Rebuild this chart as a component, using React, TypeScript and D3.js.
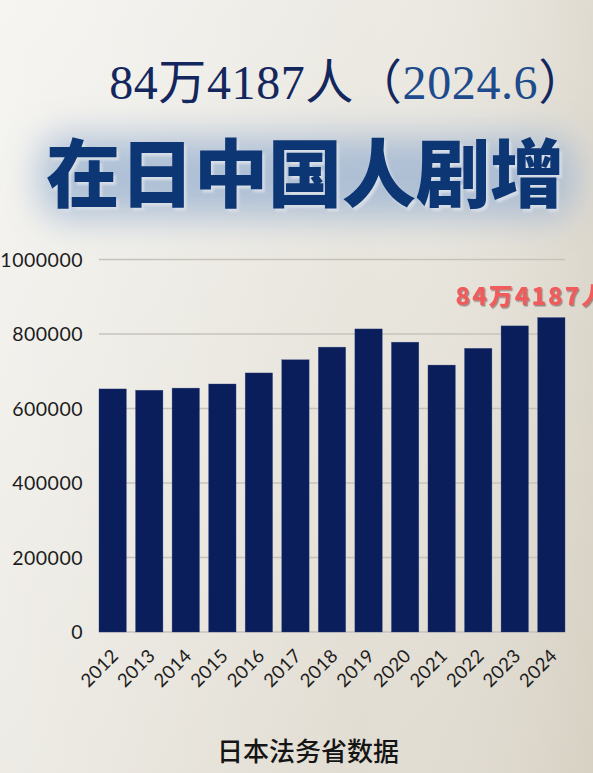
import React from "react";
import * as d3 from "d3";

const years = ["2012","2013","2014","2015","2016","2017","2018","2019","2020","2021","2022","2023","2024"];
const residents = [652595, 649078, 654777, 665847, 695522, 730890, 764720, 813675, 778112, 716606, 761563, 821838, 844187];
const yTicks = [0, 200000, 400000, 600000, 800000, 1000000];
const titleMain = "84万4187人";
const titleDate = "2024.6";
const headline = "在日中国人剧增";
const annotation = "84万4187人";
const source = "日本法务省数据";

const W = 593;
const H = 773;

export default function App() {
  const x = d3.scaleBand<string>().domain(years).range([94.4, 569.6]).paddingInner(0.25).paddingOuter(0.125);
  const y = d3.scaleLinear().domain([0, 1000000]).range([632, 259.5]);
  const x0 = x(years[0])!;
  const x1 = x(years[years.length - 1])! + x.bandwidth();
  const last = years.length - 1;
  const tickFont = "Lato, 'DejaVu Sans', sans-serif";
  return (
    <div style={{ width: W, height: H, overflow: "hidden" }}>
      <style>{"body{margin:0;}"}</style>
      <svg width={W} height={H} viewBox={`0 0 ${W} ${H}`} style={{ display: "block" }}>
        <defs>
          <linearGradient id="bg" x1="0" y1="0" x2="1" y2="1">
            <stop offset="0" stopColor="#f3f2ee" />
            <stop offset="0.5" stopColor="#e8e5dd" />
            <stop offset="1" stopColor="#ddd7cb" />
          </linearGradient>
          <linearGradient id="bgh" x1="0" y1="0" x2="1" y2="0">
            <stop offset="0" stopColor="#ffffff" stopOpacity="0.25" />
            <stop offset="0.6" stopColor="#ffffff" stopOpacity="0" />
            <stop offset="1" stopColor="#c9c1b0" stopOpacity="0.28" />
          </linearGradient>
          <filter id="glow" x="-20%" y="-80%" width="140%" height="260%">
            <feGaussianBlur stdDeviation="18" />
          </filter>
          <filter id="shadow" x="-10%" y="-30%" width="130%" height="160%">
            <feDropShadow dx="1.2" dy="1.5" stdDeviation="0.6" floodColor="#5a4a4a" floodOpacity="0.55" />
          </filter>
          <filter id="soft" x="-10%" y="-30%" width="120%" height="160%">
            <feGaussianBlur stdDeviation="1.2" />
          </filter>
        </defs>
        <rect x={0} y={0} width={W} height={H} fill="url(#bg)" />
        <rect x={0} y={0} width={W} height={H} fill="url(#bgh)" />

        {/* Title line 1 */}
        <text x={348} y={99} textAnchor="middle" fontSize={48} letterSpacing={0.6}
          fontFamily="'Liberation Serif', 'DejaVu Serif', 'Noto Sans CJK SC', serif" fill="#13265e">
          <tspan>{titleMain}</tspan>
          <tspan>（</tspan>
          <tspan fill="#1d4b8c">{titleDate}</tspan>
          <tspan>）</tspan>
        </text>

        {/* Headline with glow */}
        <rect x={40} y={136} width={535} height={82} rx={24} fill="#9fb5d2" opacity={0.8} filter="url(#glow)" />
        <text x={305} y={201} textAnchor="middle" fontSize={74} fontWeight={900}
          fontFamily="'Noto Sans CJK SC', sans-serif" fill="#d6dde6" transform="translate(2.5,2.5)" filter="url(#soft)">
          {headline}
        </text>
        <text x={305} y={201} textAnchor="middle" fontSize={74} fontWeight={900}
          fontFamily="'Noto Sans CJK SC', sans-serif" fill="#0d3674">
          {headline}
        </text>

        {/* Gridlines */}
        {yTicks.map((t) => (
          <line key={"g" + t} x1={x0} x2={x1} y1={y(t)} y2={y(t)} stroke="#c6c3bc" strokeWidth={1.3} />
        ))}

        {/* Y tick labels */}
        {yTicks.map((t) => (
          <text key={"t" + t} x={83} y={y(t)} dy="0.36em" textAnchor="end" fontSize={19.5}
            letterSpacing={0.5} fontFamily={tickFont} fill="#1c1c1c">
            {t}
          </text>
        ))}

        {/* Bars */}
        {years.map((yr, i) => (
          <rect key={yr} x={x(yr)} y={y(residents[i])} width={x.bandwidth()} height={y(0) - y(residents[i])}
            fill="#0b1e5c" stroke="#3a4f86" strokeWidth={0.5} strokeOpacity={0.6} />
        ))}

        {/* X labels */}
        {years.map((yr) => {
          const cx = x(yr)! + x.bandwidth() / 2 + 7;
          const cy = 657;
          return (
            <text key={"x" + yr} x={cx} y={cy} textAnchor="end" fontSize={18.5} letterSpacing={0.3}
              fontFamily={tickFont} fill="#1c1c1c" transform={`rotate(-45, ${cx}, ${cy})`}>
              {yr}
            </text>
          );
        })}

        {/* Annotation */}
        <text x={x(years[last])! - 82} y={y(residents[last]) - 13} fontSize={24} fontWeight={900}
          letterSpacing={2} fontFamily="'Noto Sans CJK SC', sans-serif" fill="#f05b5b" filter="url(#shadow)">
          {annotation}
        </text>

        {/* Source */}
        <text x={308} y={761} textAnchor="middle" fontSize={26} fontWeight={500}
          fontFamily="'Noto Sans CJK SC', sans-serif" fill="#151515">
          {source}
        </text>
      </svg>
    </div>
  );
}
